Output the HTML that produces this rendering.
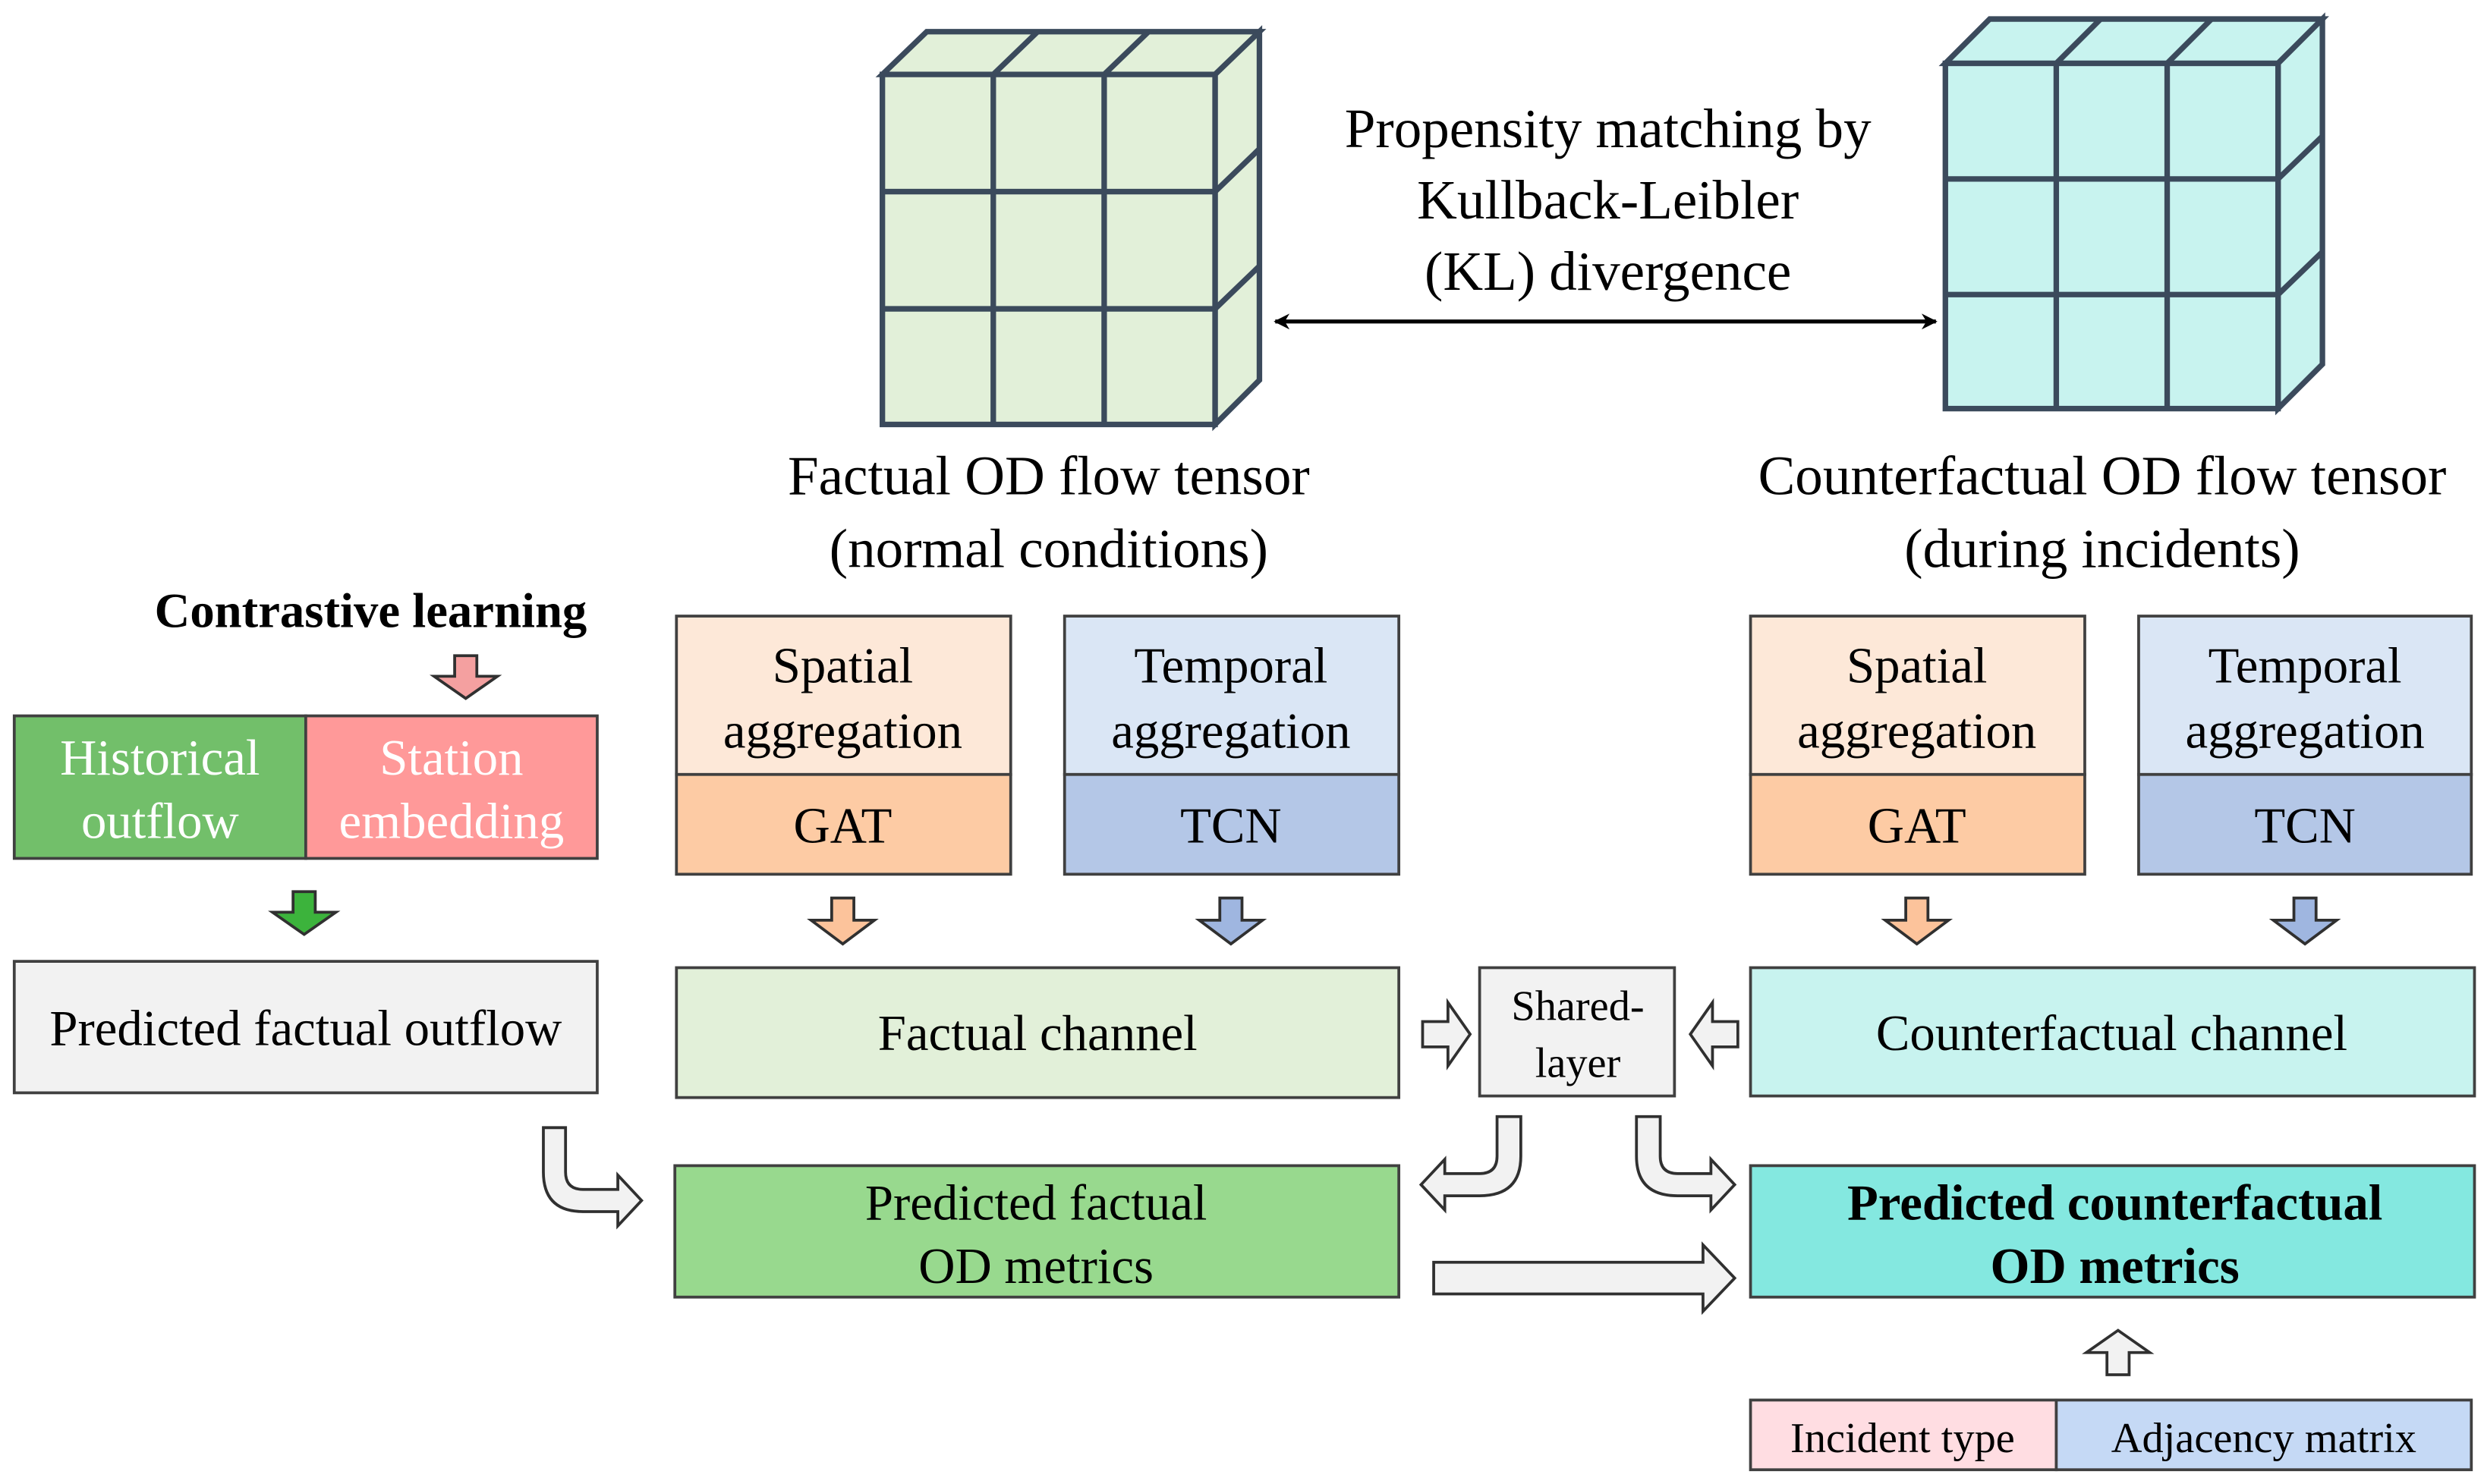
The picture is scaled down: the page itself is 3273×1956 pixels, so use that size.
<!DOCTYPE html>
<html><head><meta charset="utf-8"><style>
html,body{margin:0;padding:0;background:#fff;}
svg{display:block;}
</style></head><body>
<svg width="3273" height="1956" viewBox="0 0 1568 937" preserveAspectRatio="none" xmlns="http://www.w3.org/2000/svg" font-family="'Liberation Serif', 'DejaVu Serif', serif">
<defs>
<marker id="ah" markerWidth="10" markerHeight="10" refX="9" refY="5" orient="auto-start-reverse" markerUnits="userSpaceOnUse"><path d="M0,0 L10,5 L0,10 L3,5 Z" fill="#000"/></marker>
</defs>
<g stroke="#3b4a5c" stroke-width="3.5" fill="#e2f0d9">
<polygon points="557,47 585,20 795,20 767,47"/>
<polygon points="767,47 795,20 795,240 767,268"/>
<rect x="557" y="47" width="210" height="221"/>
<line x1="627" y1="47" x2="627" y2="268"/><line x1="697" y1="47" x2="697" y2="268"/>
<line x1="557" y1="121" x2="767" y2="121"/><line x1="557" y1="195" x2="767" y2="195"/>
<line x1="627" y1="47" x2="655" y2="20"/><line x1="697" y1="47" x2="725" y2="20"/>
<line x1="767" y1="121" x2="795" y2="94"/><line x1="767" y1="195" x2="795" y2="168"/>
</g>
<g stroke="#3b4a5c" stroke-width="3.5" fill="#c8f3ef">
<polygon points="1228,40 1256,12 1466,12 1438,40"/>
<polygon points="1438,40 1466,12 1466,230 1438,258"/>
<rect x="1228" y="40" width="210" height="218"/>
<line x1="1298" y1="40" x2="1298" y2="258"/><line x1="1368" y1="40" x2="1368" y2="258"/>
<line x1="1228" y1="113" x2="1438" y2="113"/><line x1="1228" y1="186" x2="1438" y2="186"/>
<line x1="1298" y1="40" x2="1326" y2="12"/><line x1="1368" y1="40" x2="1396" y2="12"/>
<line x1="1438" y1="113" x2="1466" y2="86"/><line x1="1438" y1="186" x2="1466" y2="159"/>
</g>
<g font-size="35" text-anchor="middle" font-family="'Liberation Serif', 'DejaVu Serif', serif">
<text x="1015" y="93">Propensity matching by</text>
<text x="1015" y="138">Kullback-Leibler</text>
<text x="1015" y="183">(KL) divergence</text>
<text x="662" y="312">Factual OD flow tensor</text>
<text x="662" y="358">(normal conditions)</text>
<text x="1327" y="312">Counterfactual OD flow tensor</text>
<text x="1327" y="358">(during incidents)</text>
</g>
<line x1="805" y1="203" x2="1222" y2="203" stroke="#000" stroke-width="2.5" marker-start="url(#ah)" marker-end="url(#ah)"/>
<text x="234" y="396" font-size="31" font-weight="bold" text-anchor="middle" font-family="'Liberation Serif', 'DejaVu Serif', serif">Contrastive learning</text>
<g stroke="#404040" stroke-width="1.8">
<rect x="9" y="452" width="184" height="90" fill="#72bf6a"/>
<rect x="193" y="452" width="184" height="90" fill="#ff9999"/>
<rect x="9" y="607" width="368" height="83" fill="#f2f2f2"/>
<rect x="427" y="389" width="211" height="100" fill="#fde8d8"/>
<rect x="427" y="489" width="211" height="63" fill="#fdcba4"/>
<rect x="672" y="389" width="211" height="100" fill="#dae6f5"/>
<rect x="672" y="489" width="211" height="63" fill="#b4c7e7"/>
<rect x="1105" y="389" width="211" height="100" fill="#fde8d8"/>
<rect x="1105" y="489" width="211" height="63" fill="#fdcba4"/>
<rect x="1350" y="389" width="210" height="100" fill="#dae6f5"/>
<rect x="1350" y="489" width="210" height="63" fill="#b4c7e7"/>
<rect x="427" y="611" width="456" height="82" fill="#e2f0d9"/>
<rect x="934" y="611" width="123" height="81" fill="#f2f2f2"/>
<rect x="1105" y="611" width="457" height="81" fill="#c8f3ef"/>
<rect x="426" y="736" width="457" height="83" fill="#98d98e"/>
<rect x="1105" y="736" width="457" height="83" fill="#84e8e0"/>
<rect x="1105" y="884" width="193" height="44" fill="#ffdde2"/>
<rect x="1298" y="884" width="262" height="44" fill="#c5d9f5"/>
</g>
<g font-size="32" text-anchor="middle" font-family="'Liberation Serif', 'DejaVu Serif', serif">
<text x="101" y="489" fill="#fff">Historical</text>
<text x="101" y="529" fill="#fff">outflow</text>
<text x="285" y="489" fill="#fff">Station</text>
<text x="285" y="529" fill="#fff">embedding</text>
<text x="193" y="660">Predicted factual outflow</text>
<text x="532" y="431">Spatial</text>
<text x="532" y="472">aggregation</text>
<text x="532" y="532">GAT</text>
<text x="777" y="431">Temporal</text>
<text x="777" y="472">aggregation</text>
<text x="777" y="532">TCN</text>
<text x="1210" y="431">Spatial</text>
<text x="1210" y="472">aggregation</text>
<text x="1210" y="532">GAT</text>
<text x="1455" y="431">Temporal</text>
<text x="1455" y="472">aggregation</text>
<text x="1455" y="532">TCN</text>
<text x="655" y="663">Factual channel</text>
<text x="1333" y="663">Counterfactual channel</text>
<text x="654" y="770">Predicted factual</text>
<text x="654" y="810">OD metrics</text>
<text x="1335" y="770" font-weight="bold">Predicted counterfactual</text>
<text x="1335" y="810" font-weight="bold">OD metrics</text>
</g>
<g font-size="27" text-anchor="middle" font-family="'Liberation Serif', 'DejaVu Serif', serif">
<text x="996" y="644">Shared-</text>
<text x="996" y="680">layer</text>
<text x="1201" y="917">Incident type</text>
<text x="1429" y="917">Adjacency matrix</text>
</g>
<g stroke="#303030" stroke-width="1.8">
<path d="M287,414 H301 V427 H314 L294,441 L274,427 H287 Z" fill="#f4a0a0"/>
<path d="M185,563 H199 V576 H212 L192,590 L172,576 H185 Z" fill="#3cb33c"/>
<path d="M525,567 H539 V581 H552 L532,596 L512,581 H525 Z" fill="#fcc39b"/>
<path d="M770,567 H784 V581 H797 L777,596 L757,581 H770 Z" fill="#9fb6e0"/>
<path d="M1203,567 H1217 V581 H1230 L1210,596 L1190,581 H1203 Z" fill="#fcc39b"/>
<path d="M1448,567 H1462 V581 H1475 L1455,596 L1435,581 H1448 Z" fill="#9fb6e0"/>
<path d="M1330,868 H1344 V854 H1357 L1337,840 L1317,854 H1330 Z" fill="#f2f2f2"/>
<path d="M898,645 H914 V633 L928,653 L914,673 V661 H898 Z" fill="#f2f2f2"/>
<path d="M1097,645 H1081 V633 L1067,653 L1081,673 V661 H1097 Z" fill="#f2f2f2"/>
<path d="M905,797 H1075 V786 L1095,807 L1075,828 V817 H905 Z" fill="#f2f2f2"/>
<path d="M343,712 H357 V740 Q357,751 368,751 H390 V742 L405,758 L390,774 V765 H368 Q343,765 343,740 Z" fill="#f2f2f2"/>
<path d="M960,705 H945 V730 Q945,741 934,741 H912 V732 L897,748 L912,764 V755 H934 Q960,755 960,730 Z" fill="#f2f2f2"/>
<path d="M1033,705 H1048 V730 Q1048,741 1059,741 H1080 V732 L1095,748 L1080,764 V755 H1059 Q1033,755 1033,730 Z" fill="#f2f2f2"/>
</g>
</svg>
</body></html>
